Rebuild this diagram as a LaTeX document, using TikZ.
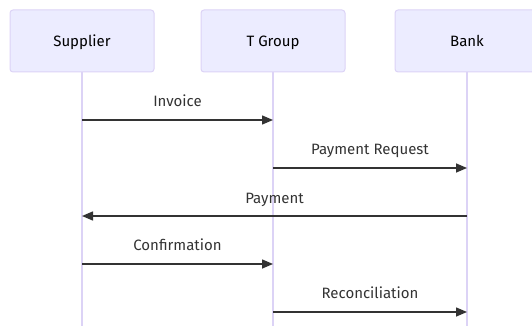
\documentclass[tikz,border=0pt]{standalone}
\usepackage{fontspec}
\setmainfont{Fira Sans}
\usetikzlibrary{arrows.meta}

\definecolor{actorfill}{HTML}{ECECFF}
\definecolor{actorline}{HTML}{DCD3F6}
\definecolor{msgline}{HTML}{333333}

\tikzset{
	actor/.style={draw=actorline, fill=actorfill, rounded corners=3pt, line width=1pt,
		minimum width=144pt, minimum height=62pt, inner sep=0pt,
		text height=14.5pt, text depth=3.5pt, font=\fontsize{15}{18}\selectfont},
	life/.style={draw=actorline, line width=1.2pt},
	msg/.style={draw=msgline, line width=1.5pt, -{Triangle[length=11pt,width=9pt]}},
	lbl/.style={font=\fontsize{15}{18}\selectfont, text=msgline, inner sep=0pt,
		text height=14.5pt, text depth=3.5pt}
}

\begin{document}
\begin{tikzpicture}[x=1pt,y=-1pt]
	\useasboundingbox (0,0) rectangle (532,326);
	\clip (0,0) rectangle (532,326);

	% lifelines first, boxes on top
	\coordinate (Sb) at (82,326);
	\coordinate (Tb) at (273,326);
	\coordinate (Bb) at (467,326);

	\node (S) [actor] at (82,41) {Supplier};
	\node (T) [actor] at (273,41) {T Group};
	\node (B) [actor] at (467,41) {Bank};

	\draw [life] (S.south) to (Sb);
	\draw [life] (T.south) to (Tb);
	\draw [life] (B.south) to (Bb);

	% message ends on the lifelines
	\coordinate (s1) at (82,120);
	\coordinate (t1) at (273,120);
	\coordinate (t2) at (273,168);
	\coordinate (b2) at (467,168);
	\coordinate (b3) at (467,216);
	\coordinate (s3) at (82,216);
	\coordinate (s4) at (82,264);
	\coordinate (t4) at (273,264);
	\coordinate (t5) at (273,312);
	\coordinate (b5) at (467,312);

	\node (L1) [lbl] at (177.5,101) {Invoice};
	\node (L2) [lbl] at (370,149) {Payment Request};
	\node (L3) [lbl] at (274.5,198) {Payment};
	\node (L4) [lbl] at (177.5,245) {Confirmation};
	\node (L5) [lbl] at (370,293) {Reconciliation};

	\draw [msg] (s1) to (t1);
	\draw [msg] (t2) to (b2);
	\draw [msg] (b3) to (s3);
	\draw [msg] (s4) to (t4);
	\draw [msg] (t5) to (b5);

\end{tikzpicture}
\end{document}
